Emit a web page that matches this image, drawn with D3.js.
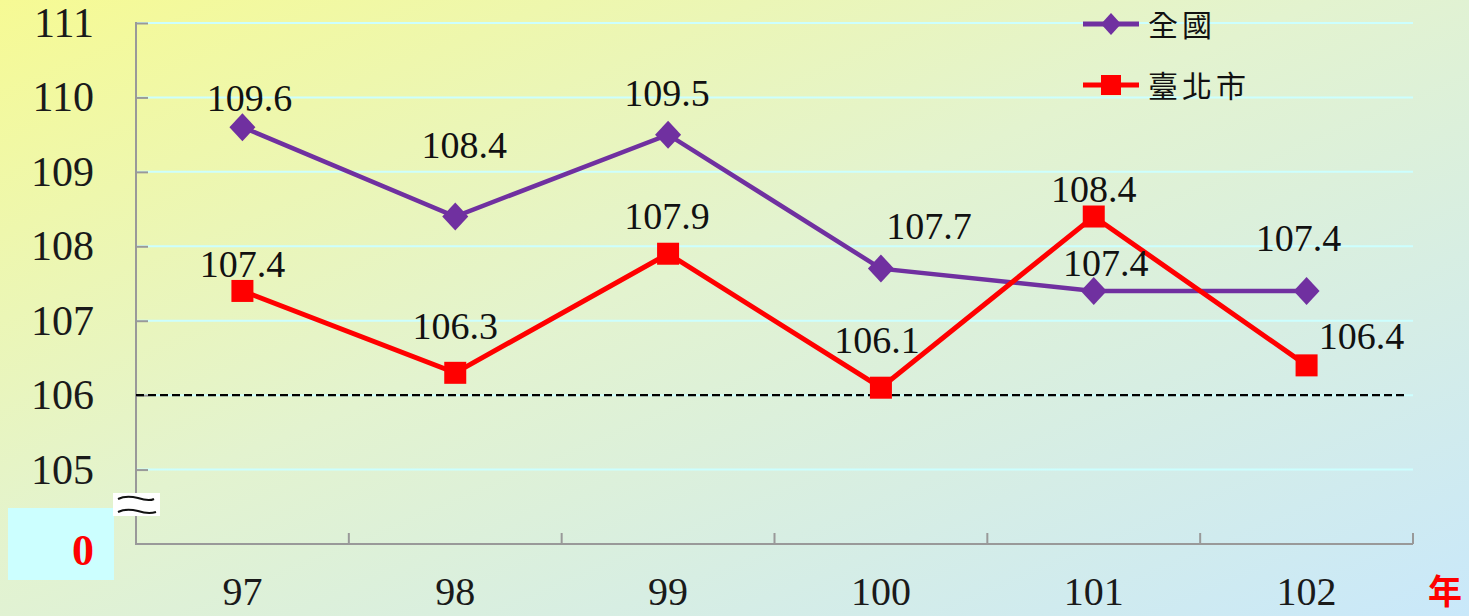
<!DOCTYPE html>
<html><head><meta charset="utf-8">
<script src="https://cdn.jsdelivr.net/npm/d3@7"></script>
<style>html,body{margin:0;padding:0;overflow:hidden}svg{display:block}</style>
</head><body>
<svg id="chart" width="1469" height="616"></svg>
<script>
const categories = ["97","98","99","100","101","102"];
const seriesNames = ["全國","臺北市"];
const nationalValues = [109.6,108.4,109.5,107.7,107.4,107.4];
const taipeiValues = [107.4,106.3,107.9,106.1,108.4,106.4];
const yTicks = [105,106,107,108,109,110,111];
const referenceValue = 106;
// label offsets relative to point (dx, dy) – layout only
const nationalLabelOffsets = [[7,-16],[9,-59],[-1,-29],[48,-30],[12,-15],[-8,-40]];
const taipeiLabelOffsets = [[0,-14],[0,-34],[-1,-25],[-4,-35],[0,-15],[55,-16]];

(function(){
const svg = d3.select("#chart");
const W = 1469, H = 616;
const defs = svg.append("defs");
const grad = defs.append("linearGradient").attr("id","bg").attr("x1","0").attr("y1","0").attr("x2","1").attr("y2","1");
grad.append("stop").attr("offset","0").attr("stop-color","#f6fa94");
grad.append("stop").attr("offset","0.45").attr("stop-color","#e3f3cf");
grad.append("stop").attr("offset","1").attr("stop-color","#c9e8fa");
svg.append("rect").attr("width",W).attr("height",H).attr("fill","url(#bg)");

const pl = 136, pr = 1413, pt = 23, pb = 544;
const x = d3.scaleBand().domain(categories).range([pl,pr]).padding(0);
const y = d3.scaleLinear().domain([104,111]).range([pb,pt]);
const cx = c => x(c) + x.bandwidth()/2;
const serif = "'Liberation Serif', 'Times New Roman', serif";

// gridlines
svg.append("g").selectAll("line").data(yTicks).join("line")
  .attr("x1",pl).attr("x2",pr).attr("y1",d=>y(d)).attr("y2",d=>y(d))
  .attr("stroke","#ccffff").attr("stroke-width",2);

// y axis
const yAxis = d3.axisRight(y).tickValues(yTicks).tickSize(12).tickFormat("");
const gy = svg.append("g").attr("transform",`translate(${pl},0)`).call(yAxis);
gy.select(".domain").remove();
gy.selectAll(".tick line").attr("stroke","#999").attr("stroke-width",2);
svg.append("line").attr("x1",pl).attr("x2",pl).attr("y1",pt-1).attr("y2",pb+1).attr("stroke","#999").attr("stroke-width",2);

// y tick labels
svg.append("g").selectAll("text").data(yTicks).join("text")
  .attr("x",94).attr("y",d=>y(d)+14).attr("text-anchor","end")
  .attr("font-family",serif).attr("font-size",42)
  .attr("fill","#1a1a1a").text(d=>d);

// x axis
svg.append("line").attr("x1",pl).attr("x2",pr).attr("y1",pb).attr("y2",pb).attr("stroke","#999").attr("stroke-width",2);
const boundaries = categories.map(c => x(c) + x.bandwidth());
svg.append("g").selectAll("line").data(boundaries).join("line")
  .attr("x1",d=>d).attr("x2",d=>d).attr("y1",pb).attr("y2",pb-11)
  .attr("stroke","#999").attr("stroke-width",2);
svg.append("g").selectAll("text").data(categories).join("text")
  .attr("x",d=>cx(d)).attr("y",605).attr("text-anchor","middle")
  .attr("font-family",serif).attr("font-size",40)
  .attr("fill","#1a1a1a").text(d=>d);

// reference dashed line
svg.append("line").attr("x1",pl).attr("x2",1407).attr("y1",y(referenceValue)).attr("y2",y(referenceValue))
  .attr("stroke","#000").attr("stroke-width",2.2).attr("stroke-dasharray","8,4");

// lines
const line = d3.line().x((d,i)=>cx(categories[i])).y(d=>y(d));
svg.append("path").datum(nationalValues).attr("d",line).attr("fill","none").attr("stroke","#7030a0").attr("stroke-width",4.5);
svg.append("path").datum(taipeiValues).attr("d",line).attr("fill","none").attr("stroke","#ff0000").attr("stroke-width",5);

// markers
svg.append("g").selectAll("path").data(nationalValues).join("path")
  .attr("transform",(d,i)=>`translate(${cx(categories[i])},${y(d)})`)
  .attr("d","M0,-14L13,0L0,14L-13,0Z").attr("fill","#7030a0");
svg.append("g").selectAll("rect").data(taipeiValues).join("rect")
  .attr("x",(d,i)=>cx(categories[i])-11).attr("y",d=>y(d)-11)
  .attr("width",22).attr("height",22).attr("fill","#ff0000");

// data labels
function labels(vals, offs){
  svg.append("g").selectAll("text").data(vals).join("text")
    .attr("x",(d,i)=>cx(categories[i])+offs[i][0]).attr("y",(d,i)=>y(d)+offs[i][1])
    .attr("text-anchor","middle").attr("font-family",serif).attr("font-size",38)
    .attr("fill","#111").text(d=>d.toFixed(1));
}
labels(nationalValues, nationalLabelOffsets);
labels(taipeiValues, taipeiLabelOffsets);

// legend
const lg = svg.append("g");
lg.append("line").attr("x1",1083).attr("x2",1139).attr("y1",24).attr("y2",24).attr("stroke","#7030a0").attr("stroke-width",5);
lg.append("path").attr("transform","translate(1111,24)").attr("d","M0,-11L10,0L0,11L-10,0Z").attr("fill","#7030a0");
lg.append("line").attr("x1",1083).attr("x2",1139).attr("y1",85).attr("y2",85).attr("stroke","#ff0000").attr("stroke-width",5);
lg.append("rect").attr("x",1101).attr("y",75).attr("width",20).attr("height",20).attr("fill","#ff0000");
lg.selectAll("text").data(seriesNames).join("text")
  .attr("x",1148).attr("y",(d,i)=>[36,97][i])
  .attr("font-family","'Noto Sans CJK TC', 'Noto Sans CJK SC', sans-serif").attr("font-size",30)
  .attr("letter-spacing",4).attr("fill","#111").text(d=>d);

// bottom-left cyan box with 0
svg.append("rect").attr("x",8).attr("y",508).attr("width",106).attr("height",72).attr("fill","#ccffff");
svg.append("text").attr("x",83).attr("y",565).attr("text-anchor","middle")
  .attr("font-family",serif).attr("font-size",44).attr("font-weight","bold").attr("fill","#ff0000").text("0");

// axis break
svg.append("rect").attr("x",113).attr("y",493).attr("width",47).attr("height",23).attr("fill","#ffffff");
svg.append("path").attr("d","M118,499 C124,496 130,496 138,498 C144,500 150,501 154,499").attr("fill","none").attr("stroke","#111").attr("stroke-width",2);
svg.append("path").attr("d","M118,512 C124,509 130,509 138,511 C144,513 150,514 156,512").attr("fill","none").attr("stroke","#111").attr("stroke-width",2);

// unit label
svg.append("text").attr("x",1445).attr("y",604).attr("text-anchor","middle")
  .attr("font-family","'Noto Sans CJK TC', sans-serif").attr("font-size",34).attr("font-weight","bold").attr("fill","#ff0000").text("年");
})();
</script>
</body></html>
